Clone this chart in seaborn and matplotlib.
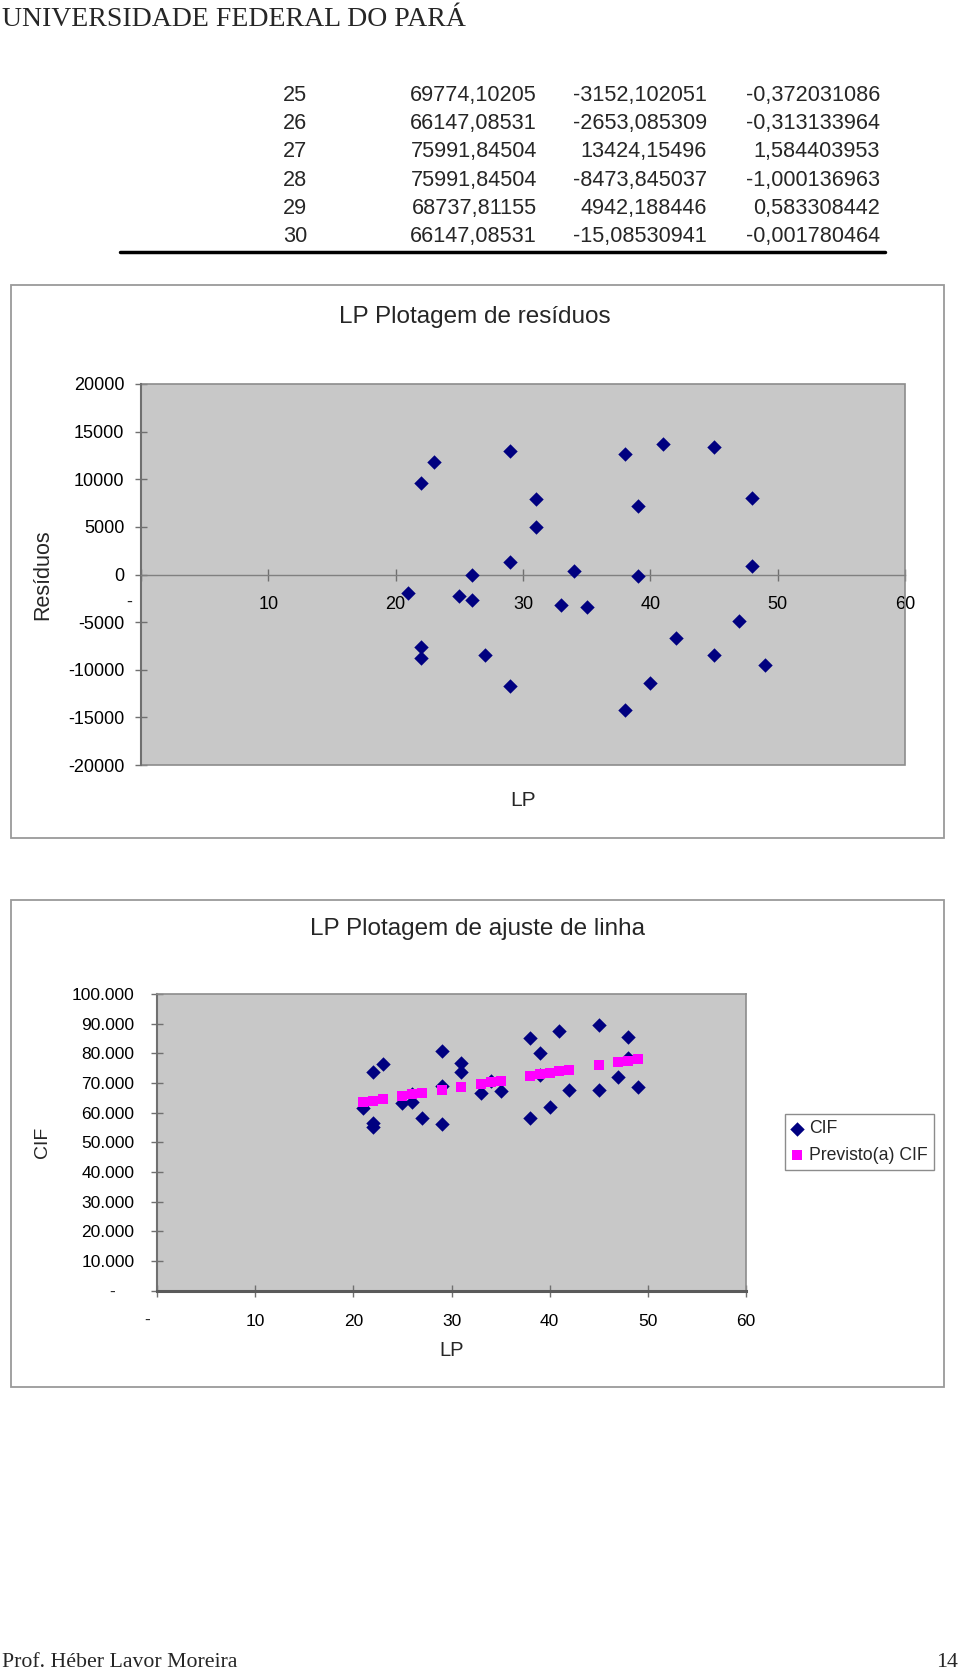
import pandas as pd
import seaborn as sns
import matplotlib.pyplot as plt
from matplotlib.patches import Rectangle
from matplotlib.lines import Line2D

# last rows of the residual table (obs, predicted, residual, standard residual)
obs = ["25", "26", "27", "28", "29", "30"]
previsto_txt = ["69774,10205", "66147,08531", "75991,84504", "75991,84504", "68737,81155", "66147,08531"]
residuo_txt = ["-3152,102051", "-2653,085309", "13424,15496", "-8473,845037", "4942,188446", "-15,08530941"]
padrao_txt = ["-0,372031086", "-0,313133964", "1,584403953", "-1,000136963", "0,583308442", "-0,001780464"]

lp = [21, 22, 23, 22, 22, 25, 27, 29, 29, 29, 31, 34, 35, 38, 38,
      39, 39, 41, 40, 42, 47, 48, 48, 49, 33, 26, 45, 45, 31, 26]
residuos = [-1900, 9600, 11830, -7650, -8770, -2240, -8430, 12950, 1340, -11680,
            7910, 370, -3360, 12690, -14180, 7200, -190, 13730, -11420, -6640,
            -4930, 8020, 900, -9510, -3152, -2653, 13424, -8474, 4942, -15]
cif = [61656, 73674, 76423, 56424, 55304, 63389, 58235, 80652, 69042, 56022,
       76648, 70662, 67450, 85055, 58185, 80083, 72693, 87649, 61981, 67797,
       72098, 85566, 78446, 68554, 66622, 63494, 89416, 67518, 73680, 66132]
previsto = [63556, 64074, 64593, 64074, 64074, 65629, 66665, 67702, 67702, 67702,
            68738, 70292, 70810, 72365, 72365, 72883, 72883, 73919, 73401, 74437,
            77028, 77546, 77546, 78064, 69774, 66147, 75992, 75992, 68738, 66147]

W, H = 960, 1670


def fx(x):
    return x / W


def fy(y):
    return 1 - y / H


sns.set_theme(style="white")
plt.rcParams["font.family"] = ["Liberation Sans", "DejaVu Sans"]

fig = plt.figure(figsize=(9.6, 16.7), dpi=100)
fig.patch.set_facecolor("white")


def axes_at(left, top, right, bottom):
    return fig.add_axes([fx(left), fy(bottom), (right - left) / W, (bottom - top) / H])


# page header / footer
fig.text(fx(2), fy(26.5), "UNIVERSIDADE FEDERAL DO PARÁ", family="Liberation Serif",
         fontsize=20, va="baseline", ha="left")
fig.text(fx(2), fy(1667), "Prof. Héber Lavor Moreira", family="Liberation Serif",
         fontsize=15.7, va="baseline", ha="left")
fig.text(fx(958), fy(1667), "14", family="Liberation Serif",
         fontsize=15.7, va="baseline", ha="right")

# table
col_right = [307, 537, 707, 880]
for i in range(len(obs)):
    yb = 101 + 28.2 * i
    for xr, txt in zip(col_right, [obs[i], previsto_txt[i], residuo_txt[i], padrao_txt[i]]):
        fig.text(fx(xr), fy(yb), txt, fontsize=15.6, ha="right", va="baseline")
fig.add_artist(Line2D([fx(120), fx(885)], [fy(251.5), fy(251.5)], color="black", lw=2.5))

# outer chart boxes
for top, bottom in [(285.5, 837.5), (900, 1387)]:
    fig.add_artist(Rectangle((fx(11), fy(bottom)), (944 - 11) / W, (bottom - top) / H,
                             transform=fig.transFigure, fill=False,
                             edgecolor="#9a9a9a", lw=1.3))

plot_bg = "#c8c8c8"

# ---- chart 1: residuals ----
ax1 = axes_at(141, 384, 905, 765)
df1 = pd.DataFrame({"LP": lp, "Resíduos": residuos})
sns.scatterplot(data=df1, x="LP", y="Resíduos", ax=ax1, marker="D", s=54,
                color="#000080", linewidth=0, zorder=3)
ax1.set_facecolor(plot_bg)
ax1.set_xlim(0, 60)
ax1.set_ylim(-20000, 20000)
ax1.set_xticks(range(0, 61, 10))
ax1.set_xticklabels([""] + [str(v) for v in range(10, 61, 10)])
ax1.set_yticks(range(-20000, 20001, 5000))
ax1.set_yticklabels([str(v) for v in range(-20000, 20001, 5000)])
ax1.spines["bottom"].set_position(("data", 0))
ax1.spines["bottom"].set_color("#808080")
ax1.spines["bottom"].set_linewidth(1.0)
ax1.spines["left"].set_color("#707070")
ax1.spines["left"].set_linewidth(1.5)
ax1.spines["top"].set_visible(False)
ax1.spines["right"].set_visible(False)
ax1.add_patch(Rectangle((0, 0), 1, 1, transform=ax1.transAxes, fill=False,
                        edgecolor="#8c8c8c", lw=1.2, clip_on=False, zorder=2))
ax1.tick_params(axis="x", bottom=True, direction="inout", length=8, width=1,
                color="#707070", pad=11.5, labelsize=13, labelcolor="black")
ax1.tick_params(axis="y", left=True, direction="inout", length=8, width=1,
                color="#707070", pad=8, labelsize=13, labelcolor="black")
ax1.annotate("-", xy=(0, 0), xytext=(-8.6, -20), textcoords="offset points",
             ha="center", va="center", fontsize=13, annotation_clip=False)
ax1.set_xlabel("LP", fontsize=15)
ax1.set_ylabel("Resíduos", fontsize=15.5)
ax1.xaxis.set_label_coords(0.5, (765 - 800) / 381)
ax1.xaxis.label.set_va("center")
ax1.yaxis.set_label_coords((43 - 141) / 764, 0.5)
ax1.yaxis.label.set_va("center")
fig.text(fx(475), fy(317), "LP Plotagem de resíduos", fontsize=17.5,
         ha="center", va="center")

# ---- chart 2: line fit ----
ax2 = axes_at(157, 994, 746, 1290.7)
sns.scatterplot(x=lp, y=cif, ax=ax2, marker="D", s=54, color="#000080",
                linewidth=0, label="CIF", zorder=3)
sns.scatterplot(x=lp, y=previsto, ax=ax2, marker="s", s=58, color="#ff00ff",
                linewidth=0, label="Previsto(a) CIF", zorder=4)
ax2.set_facecolor(plot_bg)
ax2.set_xlim(0, 60)
ax2.set_ylim(0, 100000)
ax2.set_xticks(range(0, 61, 10))
ax2.set_xticklabels([""] + [str(v) for v in range(10, 61, 10)])
ax2.set_yticks(range(0, 100001, 10000))
ax2.set_yticklabels([""] + ["{}.000".format(v // 1000) for v in range(10000, 100001, 10000)])
for side in ["top", "right"]:
    ax2.spines[side].set_color("#8c8c8c")
    ax2.spines[side].set_linewidth(1.2)
ax2.spines["left"].set_color("#707070")
ax2.spines["left"].set_linewidth(1.5)
ax2.spines["bottom"].set_color("#5a5a5a")
ax2.spines["bottom"].set_linewidth(2.2)
ax2.tick_params(axis="x", bottom=True, direction="inout", length=8.5, width=1,
                color="#707070", pad=12.5, labelsize=12.5, labelcolor="black")
ax2.tick_params(axis="y", left=True, direction="inout", length=8.5, width=1,
                color="#707070", pad=12, labelsize=12.5, labelcolor="black")
ax2.annotate("-", xy=(0, 0), xytext=(-32, 0), textcoords="offset points",
             ha="center", va="center_baseline", fontsize=12.5, annotation_clip=False)
ax2.annotate("-", xy=(0, 0), xytext=(-7, -21), textcoords="offset points",
             ha="center", va="center", fontsize=12.5, annotation_clip=False)
ax2.set_xlabel("LP", fontsize=14.5)
ax2.set_ylabel("CIF", fontsize=14)
ax2.xaxis.set_label_coords(0.5, (1290.7 - 1350) / 296.7)
ax2.xaxis.label.set_va("center")
ax2.yaxis.set_label_coords((43 - 157) / 589, 0.5)
ax2.yaxis.label.set_va("center")
fig.text(fx(477), fy(929), "LP Plotagem de ajuste de linha", fontsize=17.5,
         ha="center", va="center")

ax2.legend(loc="upper left", bbox_to_anchor=(fx(785), fy(1114)), bbox_transform=fig.transFigure,
           fontsize=12.7, frameon=True, fancybox=False, edgecolor="#8c8c8c", framealpha=1,
           borderpad=0.35, labelspacing=0.55, handlelength=0.7, handletextpad=0.3,
           borderaxespad=0)

fig.savefig("out.png", dpi=100)
